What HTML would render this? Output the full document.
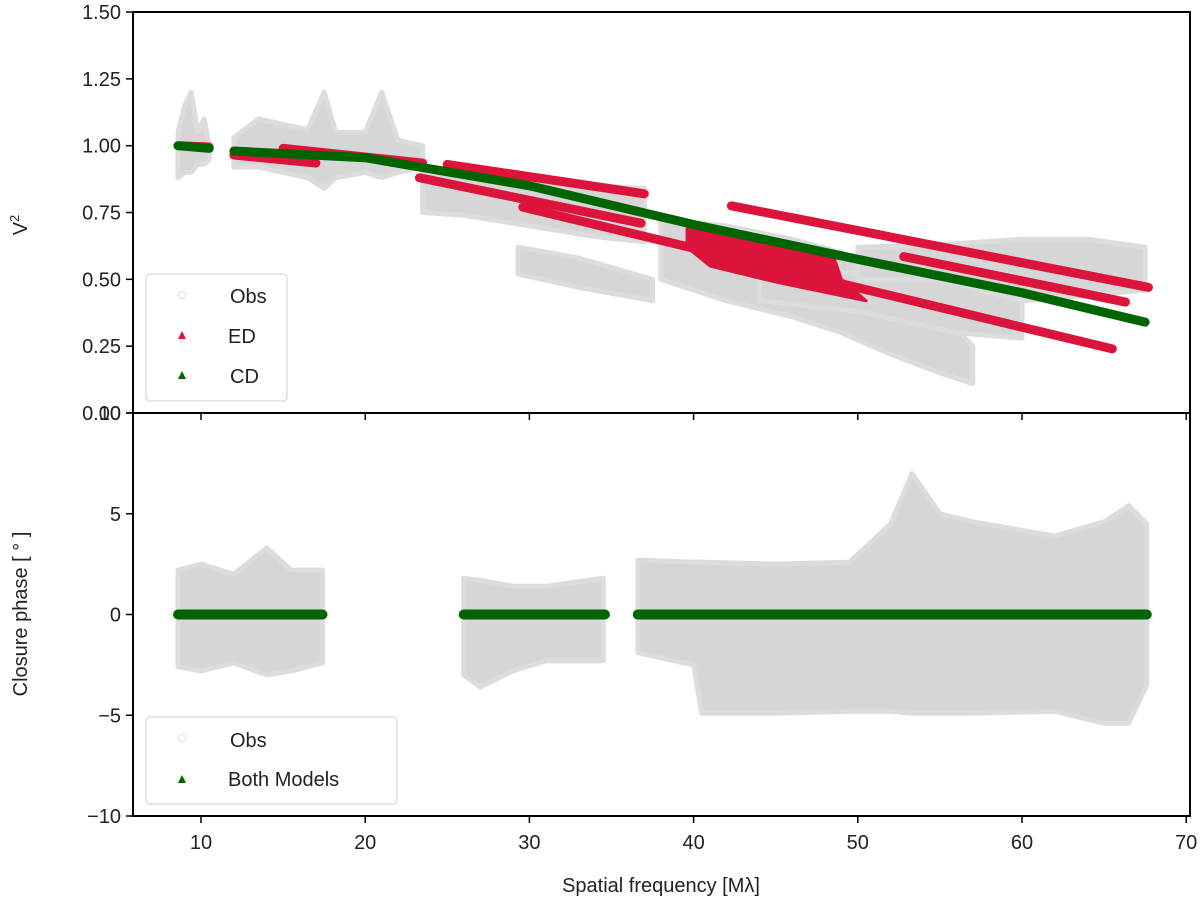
<!DOCTYPE html>
<html><head><meta charset="utf-8"><style>
body{margin:0;background:#fff}
svg{position:absolute;left:0;top:0}
svg text{font-family:"Liberation Sans","DejaVu Sans",sans-serif;fill:#222}
</style></head><body>
<svg id="chart" width="1200" height="911" xmlns="http://www.w3.org/2000/svg">
<g id="top-marks"></g>
<g id="bot-marks"></g>
<g id="axes"></g>
</svg>
<script>
// ---- data ----
const xTicks=[10,20,30,40,50,60,70];
const v2Ticks=[0,0.25,0.5,0.75,1.0,1.25,1.5];
const v2TickLabels=["0.00","0.25","0.50","0.75","1.00","1.25","1.50"];
const cpTicks=[-10,-5,0,5,10];
const cpTickLabels=["\u221210","\u22125","0","5","10"];
// observed V2 envelopes: [x, low, high]
const obsV2Bands=[
 [[8.6,0.88,1.05],[9.0,0.9,1.15],[9.4,0.9,1.2],[9.8,0.93,1.05],[10.2,0.93,1.1],[10.5,0.95,1.0]],
 [[12,0.92,1.03],[13.5,0.92,1.1],[15,0.9,1.08],[16.5,0.88,1.06],[17.5,0.84,1.2],[18.2,0.88,1.05],[20,0.9,1.05],[21,0.88,1.2],[22,0.9,1.02],[23.5,0.92,1.0]],
 [[23.5,0.75,0.9],[26,0.74,0.9],[30,0.7,0.88],[34,0.66,0.85],[37,0.64,0.84]],
 [[29.3,0.52,0.62],[33,0.47,0.58],[37.5,0.42,0.5]],
 [[38,0.5,0.72],[42,0.42,0.7],[46,0.36,0.65],[49,0.3,0.6],[52,0.22,0.5],[55,0.15,0.38],[57,0.11,0.25]],
 [[44,0.42,0.55],[50,0.38,0.52],[56,0.3,0.5],[60,0.28,0.42]],
 [[50,0.5,0.62],[55,0.5,0.63],[60,0.42,0.65],[64,0.44,0.65],[67.5,0.46,0.62]]
];
// CD model (green) points
const cdX=[8.6,10.5,null,12,20,30,40,50,60,67.5];
const cdY=[1.0,0.99,null,0.98,0.955,0.85,0.705,0.575,0.45,0.34];
// ED model (red) segments [x1,y1,x2,y2]
const edSegs=[[8.6,1.0,10.5,0.995],[12,0.965,17,0.935],[15,0.99,23.5,0.935],[25,0.93,37,0.82],[23.3,0.88,36.8,0.71],[29.6,0.77,65.5,0.24],[42.3,0.775,67.7,0.47],[52.8,0.585,66.3,0.415]];
// ED blob outline [x, v2]
const edBlob=[[39.6,0.69],[44,0.645],[48.5,0.59],[49,0.5],[50.5,0.42],[45,0.49],[41,0.55],[39.6,0.62]];
// closure phase observed envelopes
const obsCpBands=[
 [[8.6,-2.6,2.2],[10,-2.8,2.5],[12,-2.4,2.0],[14,-3,3.3],[15.5,-2.8,2.2],[17.4,-2.4,2.2]],
 [[26,-3.0,1.8],[27,-3.6,1.7],[29,-2.8,1.4],[31,-2.3,1.4],[34.5,-2.3,1.8]],
 [[36.6,-1.9,2.7],[40,-2.5,2.6],[40.5,-4.9,2.6],[45,-4.9,2.5],[49.5,-4.8,2.6],[52,-4.8,4.5],[53.3,-4.9,7.0],[55,-4.9,5.0],[57,-4.9,4.6],[62,-4.8,3.9],[65,-5.4,4.6],[66.5,-5.4,5.4],[67.6,-3.5,4.5]]
];
const cpModelRanges=[[8.6,17.4],[26,34.6],[36.6,67.6]];
// ---- scales ----
const xs=v=>201+(v-10)*16.42;
const yT=v=>413-v*267.3;
const yB=v=>614.5-v*20.15;
const NS="http://www.w3.org/2000/svg";
function mk(tag,parent,attrs){const e=document.createElementNS(NS,tag);for(const k in attrs)e.setAttribute(k,attrs[k]);parent.appendChild(e);return e;}
const topG=document.getElementById('top-marks'),botG=document.getElementById('bot-marks'),ax=document.getElementById('axes');
function band(parent,b,ys,name){
 const pts=b.map(p=>xs(p[0])+','+ys(p[2])).concat(b.slice().reverse().map(p=>xs(p[0])+','+ys(p[1]))).join(' ');
 const e=mk('polygon',parent,{points:pts,fill:'#d6d6d6','stroke':'#dcdcdc','stroke-width':5,'stroke-linejoin':'round'});
 
 
}
obsV2Bands.forEach(b=>band(topG,b,yT,'obs-v2-cloud'));
edSegs.forEach(s=>{
 const e=mk('line',topG,{x1:xs(s[0]),y1:yT(s[1]),x2:xs(s[2]),y2:yT(s[3]),stroke:'#dc143c','stroke-width':9,'stroke-linecap':'round'});
 
 
});
{const e=mk('polygon',topG,{points:edBlob.map(p=>xs(p[0])+','+yT(p[1])).join(' '),fill:'#dc143c',stroke:'#dc143c','stroke-width':3,'stroke-linejoin':'round'});

}
{let d='',start=true;cdX.forEach((x,i)=>{if(x===null){start=true;return;}d+=(start?'M':'L')+xs(x)+' '+yT(cdY[i])+' ';start=false;});
const e=mk('path',topG,{d:d,fill:'none',stroke:'#006400','stroke-width':9,'stroke-linecap':'round','stroke-linejoin':'round'});

}
obsCpBands.forEach(b=>band(botG,b,yB,'obs-closure-phase-cloud'));
cpModelRanges.forEach(r=>{
 const e=mk('line',botG,{x1:xs(r[0]),y1:yB(0),x2:xs(r[1]),y2:yB(0),stroke:'#006400','stroke-width':10,'stroke-linecap':'round'});
 
 
});
[[12,413,'v2-axes-frame'],[413,816,'closure-phase-axes-frame']].forEach(a=>{
 const e=mk('rect',ax,{x:133,y:a[0],width:1057,height:a[1]-a[0],fill:'none',stroke:'#000','stroke-width':2});
 
 
});
xTicks.forEach(v=>{
 mk('line',ax,{x1:xs(v),y1:413,x2:xs(v),y2:420,stroke:'#000','stroke-width':1.5});
 mk('line',ax,{x1:xs(v),y1:816,x2:xs(v),y2:823,stroke:'#000','stroke-width':1.5});
 const t=mk('text',ax,{x:xs(v),y:849,'font-size':20,'text-anchor':'middle'});t.textContent=v;
 
 
});
v2Ticks.forEach((v,i)=>{
 mk('line',ax,{x1:126,y1:yT(v),x2:133,y2:yT(v),stroke:'#000','stroke-width':1.5});
 const t=mk('text',ax,{x:121,y:yT(v)+7,'font-size':20,'text-anchor':'end'});t.textContent=v2TickLabels[i];
 
 
});
cpTicks.forEach((v,i)=>{
 mk('line',ax,{x1:126,y1:yB(v),x2:133,y2:yB(v),stroke:'#000','stroke-width':1.5});
 const t=mk('text',ax,{x:121,y:yB(v)+7,'font-size':20,'text-anchor':'end'});t.textContent=cpTickLabels[i];
 
 
});
</script>
<svg width="1200" height="911">
<text x="661" y="892" font-size="20" text-anchor="middle">Spatial frequency [Mλ]</text>
<text transform="translate(27,225) rotate(-90)" font-size="20" text-anchor="middle">V<tspan font-size="13" dy="-8">2</tspan></text>
<text transform="translate(27,614) rotate(-90)" font-size="20" text-anchor="middle">Closure phase [ ° ]</text>
<g>
<rect x="146" y="274" width="141" height="127" rx="4" fill="#fff" fill-opacity="0.8" stroke="#ddd" stroke-width="1.5"/>
<circle cx="182" cy="295" r="3.5" fill="none" stroke="#ddd"/>
<text x="230" y="303" font-size="20">Obs</text>
<polygon points="182,331 178,339 186,339" fill="#dc143c"/>
<text x="228" y="343" font-size="20">ED</text>
<polygon points="182,371 178,379 186,379" fill="#006400"/>
<text x="230" y="383" font-size="20">CD</text>
</g>
<g>
<rect x="146" y="717" width="251" height="87" rx="4" fill="#fff" fill-opacity="0.8" stroke="#ddd" stroke-width="1.5"/>
<circle cx="182" cy="738" r="3.5" fill="none" stroke="#ddd"/>
<text x="230" y="747" font-size="20">Obs</text>
<polygon points="182,775 178,783 186,783" fill="#006400"/>
<text x="228" y="786" font-size="20">Both Models</text>
</g>
</svg>
</body></html>
